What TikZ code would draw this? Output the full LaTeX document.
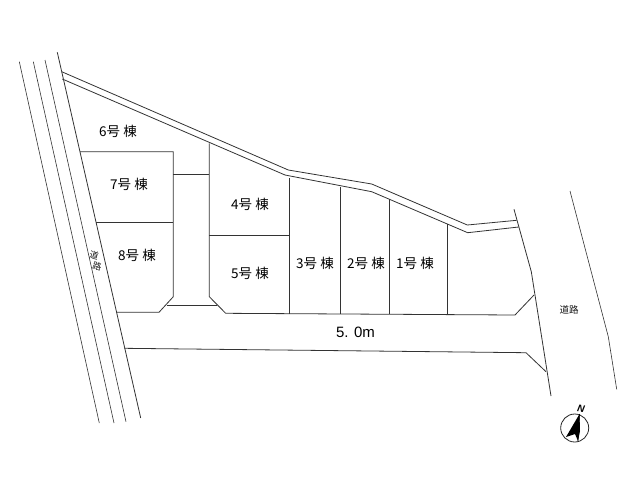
\documentclass[tikz,border=0pt]{standalone}
\usepackage{fontspec}
\newfontfamily\cjk{Noto Sans CJK JP}
\setmainfont{Liberation Sans}
\tikzset{
  plan/.style={line width=0.8pt,draw=black!80,line join=miter},
  thin plan/.style={line width=0.6pt,draw=black!80},
  lot/.style={font=\cjk\fontsize{13.5}{13.5}\selectfont,inner sep=0pt,text=black},
  road/.style={font=\cjk\fontsize{9.5}{10}\selectfont,inner sep=0pt,text=black!90},
  roadv/.style={font=\cjk\fontsize{9}{9}\selectfont,inner sep=0pt,text=black!90,rotate=-15},
}
\begin{document}
\begin{tikzpicture}[x=1pt,y=-1pt]
\useasboundingbox[fill=white] (0,0) rectangle (640,480);
% left road
\draw[thin plan] (19.3,61.7) -- (99.3,423);
\draw[thin plan] (33.3,61.7) -- (114,423);
\draw[thin plan] (45,60) -- (126,421.7);
\draw[plan] (57.3,52.3) -- (140.7,418);
% top double boundary
\draw[plan] (61.7,71.7) -- (288.3,170) -- (371.7,184) -- (467.3,225) -- (516.7,220.3);
\draw[plan] (62.3,79) -- (285,175) -- (371.7,191.7) -- (467.7,232.7) -- (518.7,227);
% right side
\draw[plan] (514,209.3) -- (531.3,271.7) -- (551,396);
\draw[thin plan] (570,191) -- (608.3,336.7) -- (616.7,389.3);
% lots
\draw[plan] (80,151.7) -- (173.3,151.7) -- (173.3,296.7) -- (159,312.3) -- (116.7,312.3);
\draw[plan] (96,222.3) -- (173.3,222.3);
\draw[plan] (173.3,174.3) -- (209.3,174.3);
\draw[plan] (209.3,143.3) -- (209.3,296.7) -- (225.7,313.3) -- (515,315) -- (534,295);
\draw[plan] (166.7,305) -- (217.3,305);
\draw[plan] (209.3,235.3) -- (289.3,235.3);
\draw[plan] (289.3,178.3) -- (289.3,313.8);
\draw[plan] (340.7,187.3) -- (340.7,314.1);
\draw[plan] (389,199.3) -- (389,314.4);
\draw[plan] (447.5,224) -- (447.5,314.7);
% access road
\draw[plan] (124.3,348.3) -- (526,352.7) -- (546,371.7);
% labels
\node[lot] (six) at (118,131) {6号 棟};
\node[lot] (seven) at (129,184) {7号 棟};
\node[lot] (eight) at (137,255.5) {8号 棟};
\node[lot] (four) at (250,204.5) {4号 棟};
\node[lot] (five) at (250,273) {5号 棟};
\node[lot] (three) at (315,263) {3号 棟};
\node[lot] (two) at (366,263) {2号 棟};
\node[lot] (one) at (415,263) {1号 棟};
\node[inner sep=0pt,font=\fontsize{15}{15}\selectfont] (width) at (355.5,332) {5. 0m};
\node[road] (roadr) at (569,310) {道路};
\node[roadv] (roadla) at (94.2,255.6) {道};
\node[roadv] (roadlb) at (97,266.6) {路};
% north mark
\node[circle,draw=black!85,line width=0.8pt,minimum size=28pt,inner sep=0pt] (compass) at (574.7,428) {};
\fill[black] (579.5,414) -- (580,431) -- (578,441) -- (575,434) -- (566,437) -- cycle;
\draw[line width=0.7pt] (579.5,414) -- (578,441);
\node[inner sep=0pt,rotate=-10,font=\bfseries\itshape\fontsize{10}{10}\selectfont] (north) at (581,409) {N};
\end{tikzpicture}
\end{document}
